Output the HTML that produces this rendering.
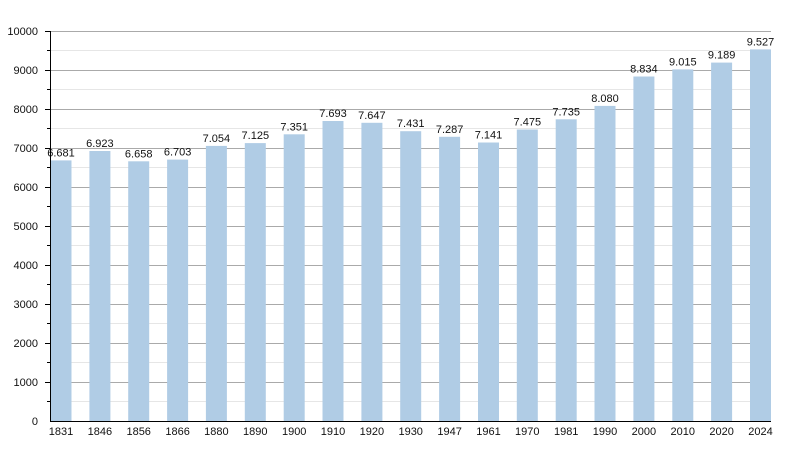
<!DOCTYPE html>
<html><head><meta charset="utf-8"><style>body{margin:0;background:#fff}svg{display:block}text{font-family:"Liberation Sans",sans-serif;font-size:11px;fill:#111}</style></head><body>
<svg width="800" height="450" xmlns="http://www.w3.org/2000/svg">
<g stroke="#e6e6e6" stroke-width="1">
<line x1="50" x2="771" y1="401.5" y2="401.5"/><line x1="50" x2="771" y1="362.5" y2="362.5"/><line x1="50" x2="771" y1="323.5" y2="323.5"/><line x1="50" x2="771" y1="284.5" y2="284.5"/><line x1="50" x2="771" y1="245.5" y2="245.5"/><line x1="50" x2="771" y1="206.5" y2="206.5"/><line x1="50" x2="771" y1="167.5" y2="167.5"/><line x1="50" x2="771" y1="128.5" y2="128.5"/><line x1="50" x2="771" y1="89.5" y2="89.5"/><line x1="50" x2="771" y1="50.5" y2="50.5"/>
</g>
<g stroke="#aaa" stroke-width="1">
<line x1="50" x2="771" y1="382.5" y2="382.5"/><line x1="50" x2="771" y1="343.5" y2="343.5"/><line x1="50" x2="771" y1="304.5" y2="304.5"/><line x1="50" x2="771" y1="265.5" y2="265.5"/><line x1="50" x2="771" y1="226.5" y2="226.5"/><line x1="50" x2="771" y1="187.5" y2="187.5"/><line x1="50" x2="771" y1="148.5" y2="148.5"/><line x1="50" x2="771" y1="109.5" y2="109.5"/><line x1="50" x2="771" y1="70.5" y2="70.5"/><line x1="50" x2="771" y1="31.5" y2="31.5"/>
</g>
<g fill="#b0cce5">
<rect x="50.5" y="160.4" width="21" height="260.6"/>
<rect x="89.4" y="151.0" width="21" height="270"/>
<rect x="128.2" y="161.3" width="21" height="259.7"/>
<rect x="167.1" y="159.6" width="21" height="261.4"/>
<rect x="205.9" y="145.9" width="21" height="275.1"/>
<rect x="244.8" y="143.1" width="21" height="277.9"/>
<rect x="283.7" y="134.3" width="21" height="286.7"/>
<rect x="322.5" y="121.0" width="21" height="300"/>
<rect x="361.4" y="122.8" width="21" height="298.2"/>
<rect x="400.2" y="131.2" width="21" height="289.8"/>
<rect x="439.1" y="136.8" width="21" height="284.2"/>
<rect x="478.0" y="142.5" width="21" height="278.5"/>
<rect x="516.8" y="129.5" width="21" height="291.5"/>
<rect x="555.7" y="119.3" width="21" height="301.7"/>
<rect x="594.5" y="105.9" width="21" height="315.1"/>
<rect x="633.4" y="76.5" width="21" height="344.5"/>
<rect x="672.3" y="69.4" width="21" height="351.6"/>
<rect x="711.1" y="62.6" width="21" height="358.4"/>
<rect x="750.0" y="49.4" width="21" height="371.6"/>
</g>
<g text-anchor="middle">
<text x="61" y="156.4">6.681</text><text x="99.9" y="147">6.923</text><text x="138.7" y="157.3">6.658</text><text x="177.6" y="155.6">6.703</text><text x="216.4" y="141.9">7.054</text><text x="255.3" y="139.1">7.125</text><text x="294.2" y="130.3">7.351</text><text x="333" y="117">7.693</text><text x="371.9" y="118.8">7.647</text><text x="410.7" y="127.2">7.431</text><text x="449.6" y="132.8">7.287</text><text x="488.5" y="138.5">7.141</text><text x="527.3" y="125.5">7.475</text><text x="566.2" y="115.3">7.735</text><text x="605" y="101.9">8.080</text><text x="643.9" y="72.5">8.834</text><text x="682.8" y="65.4">9.015</text><text x="721.6" y="58.6">9.189</text><text x="760.5" y="45.4">9.527</text>
</g>
<g text-anchor="middle">
<text x="61" y="435">1831</text><text x="99.9" y="435">1846</text><text x="138.7" y="435">1856</text><text x="177.6" y="435">1866</text><text x="216.4" y="435">1880</text><text x="255.3" y="435">1890</text><text x="294.2" y="435">1900</text><text x="333" y="435">1910</text><text x="371.9" y="435">1920</text><text x="410.7" y="435">1930</text><text x="449.6" y="435">1947</text><text x="488.5" y="435">1961</text><text x="527.3" y="435">1970</text><text x="566.2" y="435">1981</text><text x="605" y="435">1990</text><text x="643.9" y="435">2000</text><text x="682.8" y="435">2010</text><text x="721.6" y="435">2020</text><text x="760.5" y="435">2024</text>
</g>
<g text-anchor="end">
<text x="38" y="425">0</text><text x="38" y="386">1000</text><text x="38" y="347">2000</text><text x="38" y="308">3000</text><text x="38" y="269">4000</text><text x="38" y="230">5000</text><text x="38" y="191">6000</text><text x="38" y="152">7000</text><text x="38" y="113">8000</text><text x="38" y="74">9000</text><text x="38" y="35">10000</text>
</g>
<g stroke="#000" stroke-width="1">
<line x1="50.5" x2="50.5" y1="31" y2="421"/>
<line x1="50" x2="771" y1="421.5" y2="421.5"/>
<line x1="45" x2="50" y1="382.5" y2="382.5"/><line x1="45" x2="50" y1="343.5" y2="343.5"/><line x1="45" x2="50" y1="304.5" y2="304.5"/><line x1="45" x2="50" y1="265.5" y2="265.5"/><line x1="45" x2="50" y1="226.5" y2="226.5"/><line x1="45" x2="50" y1="187.5" y2="187.5"/><line x1="45" x2="50" y1="148.5" y2="148.5"/><line x1="45" x2="50" y1="109.5" y2="109.5"/><line x1="45" x2="50" y1="70.5" y2="70.5"/><line x1="45" x2="50" y1="31.5" y2="31.5"/>
<line x1="47" x2="50" y1="401.5" y2="401.5"/><line x1="47" x2="50" y1="362.5" y2="362.5"/><line x1="47" x2="50" y1="323.5" y2="323.5"/><line x1="47" x2="50" y1="284.5" y2="284.5"/><line x1="47" x2="50" y1="245.5" y2="245.5"/><line x1="47" x2="50" y1="206.5" y2="206.5"/><line x1="47" x2="50" y1="167.5" y2="167.5"/><line x1="47" x2="50" y1="128.5" y2="128.5"/><line x1="47" x2="50" y1="89.5" y2="89.5"/><line x1="47" x2="50" y1="50.5" y2="50.5"/>
</g>
</svg>
</body></html>
